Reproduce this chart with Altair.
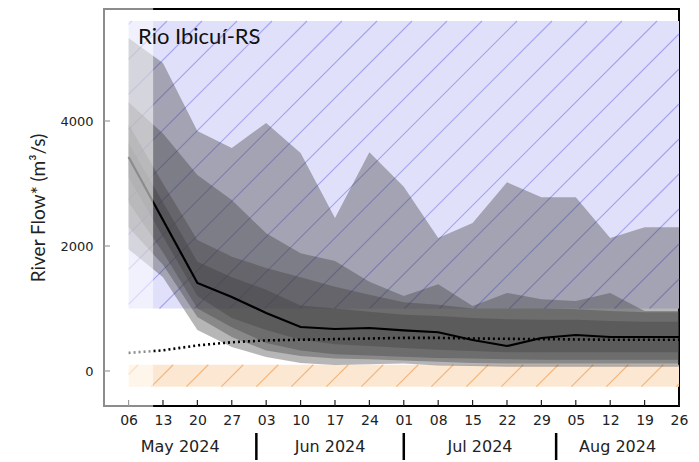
import math
import altair as alt
import pandas as pd

# ---------------- data ----------------
dates = ["2024-05-06", "2024-05-13", "2024-05-20", "2024-05-27", "2024-06-03",
         "2024-06-10", "2024-06-17", "2024-06-24", "2024-07-01", "2024-07-08",
         "2024-07-15", "2024-07-22", "2024-07-29", "2024-08-05", "2024-08-12",
         "2024-08-19", "2024-08-26"]

q_max = [5330, 4930, 3840, 3570, 3970, 3490, 2450, 3500, 2950, 2130, 2370, 3020, 2780, 2780, 2130, 2300, 2300]
q_u2 = [4300, 3800, 3136, 2736, 2203, 1883, 1760, 1430, 1200, 1390, 1040, 1250, 1150, 1120, 1250, 960, 960]
q_u3 = [3950, 3000, 2096, 1830, 1650, 1500, 1350, 1220, 1100, 1060, 1000, 1000, 1000, 990, 960, 940, 940]
q_u4 = [3650, 2700, 1750, 1500, 1300, 1050, 1000, 950, 900, 880, 850, 830, 820, 820, 800, 790, 790]
median = [3424, 2416, 1408, 1184, 928, 704, 672, 688, 650, 620, 496, 400, 528, 576, 544, 544, 544]
q_l4 = [3100, 2150, 1200, 850, 656, 500, 430, 400, 370, 340, 320, 300, 300, 300, 300, 300, 300]
q_l3 = [2700, 1900, 1000, 700, 450, 330, 270, 250, 230, 210, 200, 190, 180, 180, 180, 180, 180]
q_l2 = [2300, 1700, 864, 544, 330, 240, 200, 190, 170, 150, 130, 120, 120, 120, 120, 120, 120]
q_min = [1950, 1500, 656, 384, 224, 128, 96, 110, 120, 90, 80, 70, 70, 70, 70, 70, 70]
climatology = [290, 330, 410, 460, 490, 500, 510, 520, 530, 530, 520, 515, 510, 505, 500, 500, 500]

month_labels = ["May 2024", "Jun 2024", "Jul 2024", "Aug 2024"]
month_starts = ["2024-05-01", "2024-06-01", "2024-07-01", "2024-08-01", "2024-09-01"]
month_breaks = ["2024-06-01", "2024-07-01", "2024-08-01"]

x_start, x_end = "2024-05-01", "2024-08-26"
y_min, y_max = -560, 5792
y_ticks = [0, 2000, 4000]
y_title = "River Flow* (m³/s)"

zone_start = "2024-05-06"
high_zone = [1000, 5600]
low_zone = [-250, 100]
fade_start, fade_end = "2024-04-30T12:00", "2024-05-11"

W, H = 575, 397

# ---------------- helpers ----------------
t0 = pd.Timestamp(x_start)
n_days = (pd.Timestamp(x_end) - t0) / pd.Timedelta(days=1)
ppd = W / n_days
ppv = H / (y_max - y_min)


def xdt(s):
    t = pd.Timestamp(s)
    return alt.DateTime(year=t.year, month=t.month, date=t.day)


x_scale = alt.Scale(domain=[xdt(x_start), xdt(x_end)], nice=False)
y_scale = alt.Scale(domain=[y_min, y_max], nice=False, zero=False)

x_axis = alt.Axis(values=[xdt(d) for d in dates], format="%d", labelFont="DejaVu Sans",
                  labelFontSize=14, labelColor="#222", ticks=False, tickSize=0, domain=False,
                  grid=False, labelPadding=7, labelFlush=False, labelOverlap=False, title=None)
y_axis = alt.Axis(values=y_ticks, format="d", labelFont="DejaVu Sans", labelFontSize=13,
                  labelColor="#222", ticks=False, tickSize=0, domain=False, grid=False,
                  labelPadding=11, title=y_title, titleFont="Lato", titleFontSize=19,
                  titleFontWeight="normal", titleColor="#222", titleX=-66, titleBaseline="middle")


def X(field):
    return alt.X(field, type="temporal", scale=x_scale, axis=x_axis, title=None)


def Y(field):
    return alt.Y(field, type="quantitative", scale=y_scale, axis=y_axis, title=y_title)


def hatch(d0, d1, v0, v1, spacing=35.0, phase=285.0):
    px = lambda d: (pd.Timestamp(d) - t0) / pd.Timedelta(days=1) * ppd
    py = lambda v: (y_max - v) * ppv
    X0, X1 = px(d0), px(d1)
    Y0, Y1 = py(v1), py(v0)
    rows = []
    kmin = math.floor((X0 + Y0 - phase) / spacing)
    kmax = math.ceil((X1 + Y1 - phase) / spacing)
    for k in range(kmin, kmax + 1):
        c = phase + k * spacing
        lo = max(X0, c - Y1)
        hi = min(X1, c - Y0)
        if hi - lo > 0.5:
            rows.append(dict(
                xa=t0 + pd.Timedelta(days=lo / ppd), ya=y_max - (c - lo) / ppv,
                xb=t0 + pd.Timedelta(days=hi / ppd), yb=y_max - (c - hi) / ppv))
    return pd.DataFrame(rows)


dt = pd.to_datetime(dates)

bands = []
for name, lo, hi in [("b1", q_min, q_max), ("b2", q_l2, q_u2), ("b3", q_l3, q_u3), ("b4", q_l4, q_u4)]:
    bands.append(pd.DataFrame({"date": dt, "lo": lo, "hi": hi, "band": name}))
band_df = pd.concat(bands, ignore_index=True)
line_df = pd.DataFrame({"date": dt, "median": median, "clim": climatology})

zones = pd.DataFrame({
    "x0": pd.to_datetime([zone_start, zone_start]),
    "x1": pd.to_datetime([x_end, x_end]),
    "v0": [high_zone[0], low_zone[0]],
    "v1": [high_zone[1], low_zone[1]],
    "kind": ["high", "low"],
})

hatch_hi = hatch(zone_start, x_end, high_zone[0], high_zone[1])
hatch_lo = hatch(zone_start, x_end, low_zone[0], low_zone[1])

ms = pd.to_datetime(month_starts)
lo_b = [max(ms[i], pd.Timestamp(x_start)) for i in range(4)]
hi_b = [min(ms[i + 1], pd.Timestamp(x_end)) for i in range(4)]
month_df = pd.DataFrame({"label": month_labels,
                         "mid": [a + (b - a) / 2 for a, b in zip(lo_b, hi_b)]})
break_df = pd.DataFrame({"date": pd.to_datetime(month_breaks)})
tick_df = pd.DataFrame({"date": dt})
ytick_df = pd.DataFrame({"v": y_ticks})
fade_df = pd.DataFrame({"x0": pd.to_datetime([fade_start]), "x1": pd.to_datetime([fade_end])})

# ---------------- layers ----------------
zone_rect = alt.Chart(zones).mark_rect().encode(
    x=X("x0"), x2="x1", y=Y("v0"), y2="v1",
    color=alt.Color("kind:N", scale=alt.Scale(domain=["high", "low"], range=["#e0e0fb", "#fce8d2"]), legend=None),
)
hatch_hi_l = alt.Chart(hatch_hi).mark_rule(color="#a3a3f0", strokeWidth=1.1).encode(
    x=X("xa"), x2="xb", y=Y("ya"), y2="yb")
hatch_lo_l = alt.Chart(hatch_lo).mark_rule(color="#f2b57a", strokeWidth=1.1).encode(
    x=X("xa"), x2="xb", y=Y("ya"), y2="yb")

band_l = alt.Chart(band_df).mark_area(color="#404040", opacity=0.38, interpolate="linear").encode(
    x=X("date"), y=Y("lo"), y2="hi", detail="band:N")

median_l = alt.Chart(line_df).mark_line(color="black", strokeWidth=2.2).encode(
    x=X("date"), y=Y("median"))
clim_l = alt.Chart(line_df).mark_line(color="black", strokeWidth=2.6, strokeDash=[2, 3]).encode(
    x=X("date"), y=Y("clim"))

xticks_l = alt.Chart(tick_df).mark_rule(color="#222", strokeWidth=1.2).encode(
    x=X("date"), y=alt.value(H - 6), y2=alt.value(H))
yticks_l = alt.Chart(ytick_df).mark_rule(color="#222", strokeWidth=1.2).encode(
    y=Y("v"), x=alt.value(0), x2=alt.value(6))

fade_l = alt.Chart(fade_df).mark_rect(color="white", opacity=0.55).encode(
    x=X("x0"), x2="x1", y=alt.value(-2), y2=alt.value(H + 2))

breaks_l = alt.Chart(break_df).mark_rule(color="black", strokeWidth=2.5).encode(
    x=X("date"), y=alt.value(H + 27), y2=alt.value(H + 56))
months_l = alt.Chart(month_df).mark_text(font="DejaVu Sans", fontSize=16, color="#222",
                                         baseline="middle", align="center").encode(
    x=X("mid"), y=alt.value(H + 41), text="label:N")

title_l = alt.Chart(pd.DataFrame({"t": ["Rio Ibicuí-RS"]})).mark_text(
    font="Lato", fontSize=22, color="#111", align="left", baseline="middle").encode(
    x=alt.value(34), y=alt.value(28), text="t:N")

chart = alt.layer(
    zone_rect, hatch_hi_l, hatch_lo_l, band_l, median_l, clim_l,
    xticks_l, yticks_l, fade_l, breaks_l, months_l, title_l,
).properties(
    width=W, height=H,
    autosize=alt.AutoSizeParams(type="none"),
    padding={"left": 96, "top": 1, "right": 10, "bottom": 54},
).configure_view(stroke="black", strokeWidth=2)

chart.save("out.html", embed_options={"renderer": "svg", "actions": False})
